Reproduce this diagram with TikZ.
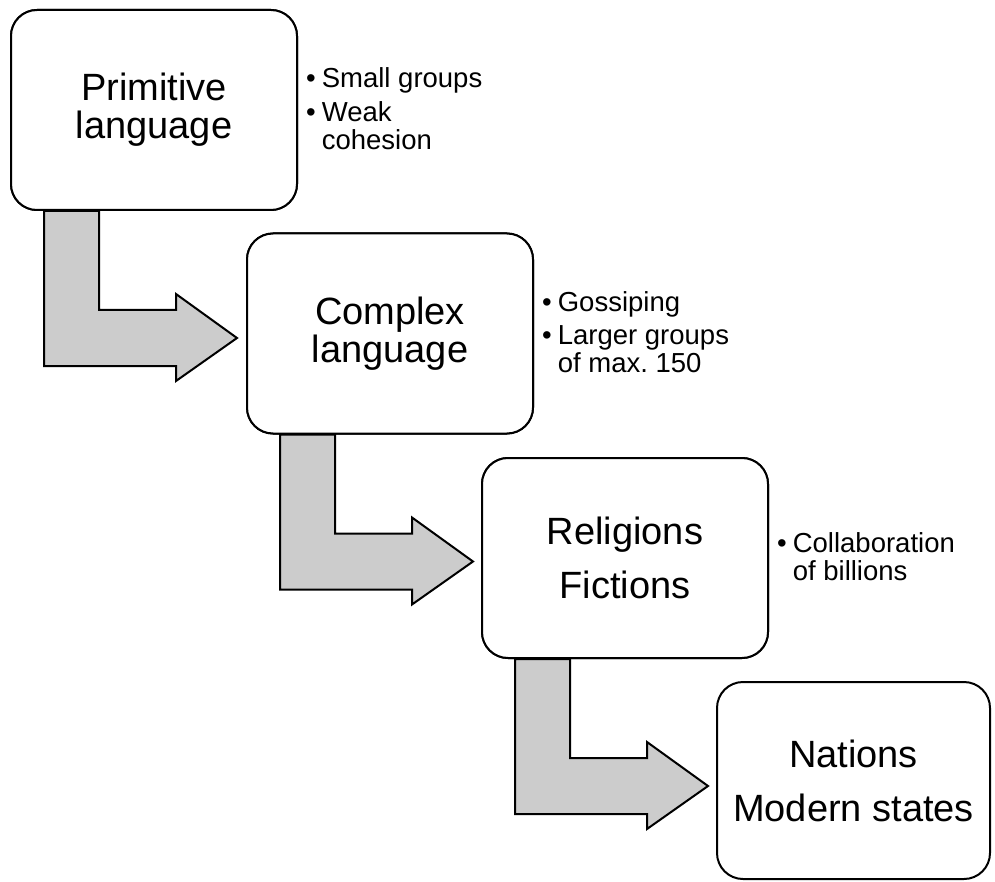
\documentclass[tikz,border=0pt]{standalone}
\usepackage{fontspec}
\setmainfont{Liberation Sans}
\usetikzlibrary{calc}
\frenchspacing

\definecolor{arrowgray}{RGB}{204,204,204}

% bent block arrow leaving the bottom of a stage box and pointing right
\newcommand\stagearrow[1]{%
  \draw[bentarrow]
    ($(#1.south west)+(34,0)$) -- ($(#1.south west)+(89,0)$)
    -- ($(#1.south west)+(89,99)$) -- ($(#1.south west)+(166,99)$)
    -- ($(#1.south west)+(166,83)$) -- ($(#1.south west)+(227,127)$)
    -- ($(#1.south west)+(166,170)$) -- ($(#1.south west)+(166,155)$)
    -- ($(#1.south west)+(34,155)$) -- cycle;}

\begin{document}
\begin{tikzpicture}[x=1pt,y=-1pt,
  stagebox/.style={draw=black,line width=2pt,fill=white,rounded corners=26pt,
    inner sep=0pt,minimum width=286pt,minimum height=200pt,align=center},
  tight/.style={font=\fontsize{38}{38}\selectfont},
  loose/.style={font=\fontsize{38}{54}\selectfont},
  bentarrow/.style={draw=black,line width=2pt,fill=arrowgray,line join=miter},
  notes/.style={anchor=west,inner sep=0pt,font=\fontsize{27.5}{28}\selectfont}]

\useasboundingbox (0,0) rectangle (995,882);

% stage positions (boxes are drawn again over the arrows below)
\node[stagebox,tight] (s1) at (154,110) {Primitive\\language};
\node[stagebox,tight] (s2) at (390,333.5) {Complex\\language};
\node[stagebox,loose] (s3) at (625,558) {Religions\\Fictions};

% arrows between consecutive stages
\stagearrow{s1}
\stagearrow{s2}
\stagearrow{s3}

% stage boxes on top of the arrow stems
\node[stagebox,tight] at (s1) {Primitive\\language};
\node[stagebox,tight] at (s2) {Complex\\language};
\node[stagebox,loose] at (s3) {Religions\\Fictions};
\node[stagebox,loose,minimum width=273pt,minimum height=197pt] (s4) at (853.5,780.5) {Nations\\Modern states};

% bullet notes
\node[notes] (n1) at ($(s1.east)+(8,3)$) {%
  \begin{tabular}{@{}l@{\hspace{6pt}}l@{}}
  \textbullet & Small groups\\[5pt]
  \textbullet & Weak\\
              & cohesion
  \end{tabular}};
\node[notes] (n2) at ($(s2.east)+(8,3)$) {%
  \begin{tabular}{@{}l@{\hspace{6pt}}l@{}}
  \textbullet & Gossiping\\[5pt]
  \textbullet & Larger groups\\
              & of max. 150
  \end{tabular}};
\node[notes] (n3) at ($(s3.east)+(8,3)$) {%
  \begin{tabular}{@{}l@{\hspace{6pt}}l@{}}
  \textbullet & Collaboration\\
              & of billions
  \end{tabular}};
\end{tikzpicture}
\end{document}
